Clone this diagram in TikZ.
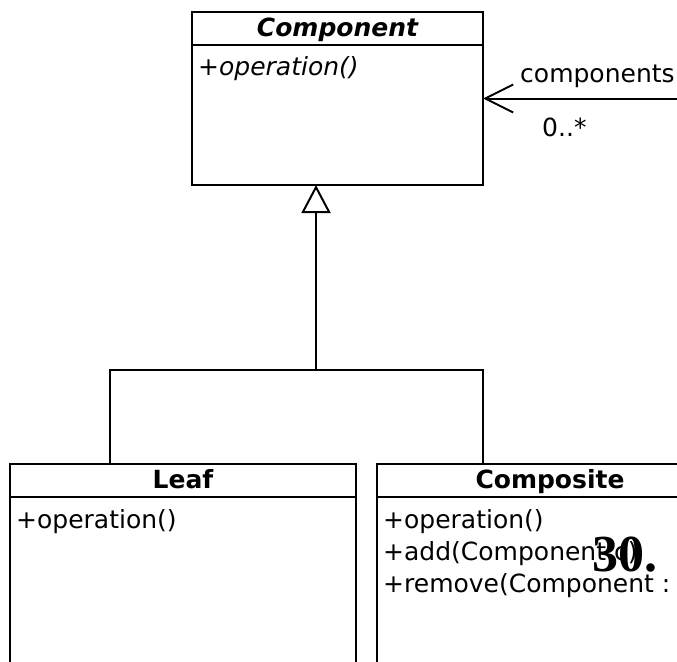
\documentclass[tikz,border=0pt]{standalone}
\usepackage{fontspec}
\setmainfont{DejaVu Sans}
\newfontfamily\serifbold{Liberation Serif}
\usetikzlibrary{arrows.meta}
\tikzset{
  umlbox/.style={draw, line width=2pt, anchor=north west, inner sep=0pt, outer sep=0pt},
  sep/.style={line width=2pt},
  conn/.style={line width=2pt},
  title/.style={anchor=base, inner sep=0pt, font=\fontsize{25}{30}\selectfont\bfseries},
  member/.style={anchor=base west, inner sep=0pt, font=\fontsize{25}{30}\selectfont},
}
\begin{document}
\begin{tikzpicture}[x=1pt,y=-1pt]
\useasboundingbox (0,0) rectangle (677,661);
\clip (0,0) rectangle (677,661);
% Component
\node[umlbox, minimum width=291pt, minimum height=173pt] (comp) at (192,12) {};
\draw[sep] ([yshift=-33pt]comp.north west) coordinate (chl) -- (chl -| comp.north east);
\node[title] (ctitle) at (337.5,37) {\itshape Component};
\node[member] (cop) at (198,75) {\itshape +operation()};
% Leaf
\node[umlbox, minimum width=346pt, minimum height=260pt] (leaf) at (10,464) {};
\draw[sep] ([yshift=-33pt]leaf.north west) coordinate (lhl) -- (lhl -| leaf.north east);
\node[title] (ltitle) at (183,488) {Leaf};
\node[member] (lop) at (16,528) {+operation()};
% Composite
\node[umlbox, minimum width=346pt, minimum height=260pt] (compo) at (377,464) {};
\draw[sep] ([yshift=-33pt]compo.north west) coordinate (khl) -- (khl -| compo.north east);
\node[title] (ktitle) at (550,488) {Composite};
\node[member] (kop) at (383,528) {+operation()};
\node[member] (kadd) at (383,560) {+add(Component c)};
\node[member] (krem) at (383,592) {+remove(Component : c)};
\node[anchor=base west, inner sep=0pt, font=\serifbold\fontsize{52}{56}\selectfont\bfseries] (pnum) at (592,571) {30.};
% generalization tree
\coordinate (jl) at (110,370);
\coordinate (jr) at (483,370);
\coordinate (jm) at (316,370);
\draw[conn, line join=miter] (jl |- leaf.north) -- (jl) -- (jr) -- (jr |- compo.north);
\draw[conn, -{Triangle[open, length=28pt, width=29pt, fill=white, line width=2pt]}] (jm) -- (jm |- comp.south);
% association
\coordinate (aend) at (700,98.5);
\draw[conn, -{Straight Barb[length=28pt, width=28pt, line width=2pt]}] (aend) -- (comp.east);
\node[member] (role) at (520,82) {components};
\node[member] (mult) at (542,136) {0..*};
\end{tikzpicture}
\end{document}
